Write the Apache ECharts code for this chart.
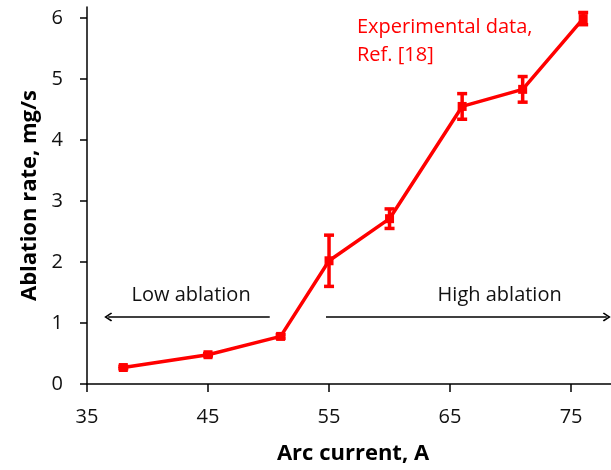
<!DOCTYPE html>
<html>
<head>
<meta charset="utf-8">
<script src="https://cdn.jsdelivr.net/npm/echarts@6/dist/echarts.min.js"></script>
<style>
  html, body { margin: 0; padding: 0; background: #fff; }
  #chart { width: 611px; height: 470px; }
</style>
</head>
<body>
<div id="chart"></div>
<script>
// Arc current (A) and measured ablation rate (mg/s) with error half-widths
const arcCurrent   = [38, 45, 51, 55, 60, 66, 71, 76];
const ablationRate = [0.27, 0.48, 0.78, 2.02, 2.71, 4.55, 4.83, 5.99];
const rateError    = [0.02, 0.02, 0.03, 0.42, 0.16, 0.21, 0.21, 0.10];

// Axis tick values
const xTicks = [35, 45, 55, 65, 75];
const yTicks = [0, 1, 2, 3, 4, 5, 6];

// Regime annotations: arrow spans (A) at a rate level, plus their captions
const regimeLevel = 1.1;
const lowSpan  = [36.75, 50.1];
const highSpan = [54.75, 77.95];
const regimeCaptions = [
  { text: 'Low ablation',  x: 43.6, y: 1.45 },
  { text: 'High ablation', x: 69.1, y: 1.45 }
];

const RED = '#ff0000';
const FONT = '"Open Sans", "Noto Sans", sans-serif';
const chevron = 'path://M5,0 L10,6 L8.7,7 L5,2.4 L1.3,7 L0,6 Z';

const chart = echarts.init(document.getElementById('chart'), null, { renderer: 'canvas' });

const points = arcCurrent.map((x, i) => [x, ablationRate[i]]);
const bars = arcCurrent.map((x, i) => [x, ablationRate[i] - rateError[i], ablationRate[i] + rateError[i]]);

const option = {
  animation: false,
  backgroundColor: '#ffffff',
  grid: { left: 87, right: 0, top: 7, bottom: 83, containLabel: false },
  xAxis: {
    type: 'value',
    min: 35,
    max: 78.3,
    interval: 10,
    name: 'Arc current, A',
    nameLocation: 'middle',
    nameGap: 59,
    nameTextStyle: { fontFamily: FONT, fontSize: 22, fontWeight: 'bold', color: '#000', padding: [0, 0, 0, 8] },
    axisLine: { show: true, lineStyle: { color: '#000', width: 1.5 } },
    axisTick: { show: true, length: 8, lineStyle: { color: '#000', width: 1.5 }, customValues: xTicks },
    axisLabel: { fontFamily: FONT, fontSize: 20, color: '#111', margin: 23, customValues: xTicks },
    splitLine: { show: false }
  },
  yAxis: {
    type: 'value',
    min: 0,
    max: 6.18,
    interval: 1,
    name: 'Ablation rate, mg/s',
    nameLocation: 'middle',
    nameGap: 45,
    nameTextStyle: { fontFamily: FONT, fontSize: 22, fontWeight: 'bold', color: '#000' },
    axisLine: { show: true, lineStyle: { color: '#000', width: 1.5 } },
    axisTick: { show: true, length: 7, lineStyle: { color: '#000', width: 1.5 }, customValues: yTicks },
    axisLabel: { fontFamily: FONT, fontSize: 20, color: '#111', margin: 24, customValues: yTicks },
    splitLine: { show: false }
  },
  series: [
    {
      type: 'line',
      data: points,
      symbol: 'rect',
      symbolSize: 9,
      itemStyle: { color: RED },
      lineStyle: { color: RED, width: 3.5 },
      z: 3,
      markLine: {
        silent: true,
        animation: false,
        label: { show: false },
        lineStyle: { color: '#000', width: 1.5, type: 'solid' },
        symbolSize: [9, 8],
        data: [
          [
            { coord: [lowSpan[0], regimeLevel], symbol: chevron },
            { coord: [lowSpan[1], regimeLevel], symbol: 'none' }
          ],
          [
            { coord: [highSpan[0], regimeLevel], symbol: 'none' },
            { coord: [highSpan[1], regimeLevel], symbol: chevron }
          ]
        ]
      }
    },
    {
      type: 'custom',
      data: bars,
      z: 4,
      renderItem: function (params, api) {
        const top = api.coord([api.value(0), api.value(2)]);
        const bot = api.coord([api.value(0), api.value(1)]);
        const cap = 5;
        const style = { stroke: RED, lineWidth: 3.5, fill: null };
        return {
          type: 'group',
          children: [
            { type: 'line', shape: { x1: top[0], y1: top[1], x2: bot[0], y2: bot[1] }, style: style },
            { type: 'line', shape: { x1: top[0] - cap, y1: top[1], x2: top[0] + cap, y2: top[1] }, style: style },
            { type: 'line', shape: { x1: bot[0] - cap, y1: bot[1], x2: bot[0] + cap, y2: bot[1] }, style: style }
          ]
        };
      }
    }
  ]
};

chart.setOption(option);

// Captions for the two regimes and the data-source note
const graphics = regimeCaptions.map(c => {
  const p = chart.convertToPixel({ gridIndex: 0 }, [c.x, c.y]);
  return {
    type: 'text',
    x: p[0],
    y: p[1],
    style: {
      text: c.text,
      fontFamily: FONT,
      fontSize: 20,
      fill: '#111',
      align: 'center',
      verticalAlign: 'middle'
    }
  };
});
graphics.push({
  type: 'text',
  left: 357,
  top: 13,
  style: {
    text: 'Experimental data,\nRef. [18]',
    fontFamily: FONT,
    fontSize: 20,
    lineHeight: 28,
    fill: RED
  }
});
chart.setOption({ graphic: graphics });
</script>
</body>
</html>
